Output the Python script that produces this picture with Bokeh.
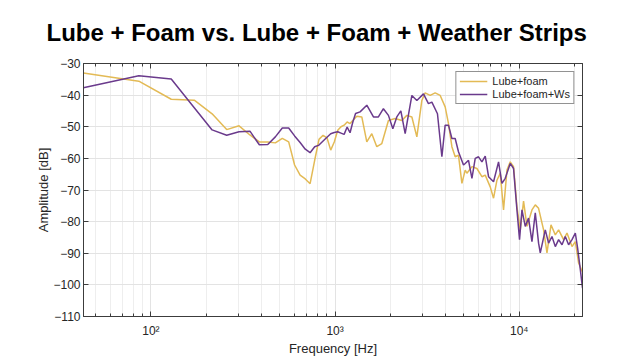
from bokeh.plotting import figure
from bokeh.models import (Range1d, FixedTicker, LogAxis, LinearAxis, Legend, LegendItem,
                          CustomJSTickFormatter)
from bokeh.embed import file_html
from bokeh.resources import INLINE

TITLE = "Lube + Foam vs. Lube + Foam + Weather Strips"
X_LABEL = "Frequency [Hz]"
Y_LABEL = "Amplitude [dB]"
SERIES_NAMES = ["Lube+foam", "Lube+foam+Ws"]

# Lube + foam (yellow)
freq_lf = [43, 86, 129, 172, 215, 258, 301, 345, 388, 431, 474, 517, 560, 603, 646, 689, 732,
           775, 818, 861, 904, 947, 990, 1034, 1077, 1120, 1163, 1206, 1312, 1397, 1487, 1583,
           1685, 1794, 1949, 2119, 2304, 2453, 2612, 2780, 2959, 3084, 3283, 3495, 3722, 3961,
           4129, 4308, 4489, 4678, 4883, 5088, 5198, 5535, 5890, 6271, 6536, 6957, 7252, 7566,
           7884, 8216, 8576, 8935, 9312, 9716, 10125, 10553, 11012, 11722, 12218, 12733, 13556,
           14143, 14873, 15696, 16357, 17410, 18164, 19340, 20157, 21007, 22050]
amp_lf = [-33.0, -35.6, -41.3, -41.6, -45.9, -50.9, -49.7, -52.6, -54.8, -54.8, -55.1, -53.7,
          -54.8, -62.1, -65.3, -66.5, -68.0, -60.6, -54.0, -52.7, -53.5, -57.4, -54.8, -51.1,
          -50.0, -49.5, -48.5, -49.0, -46.7, -46.9, -54.8, -52.2, -56.3, -55.3, -48.0, -47.4,
          -48.0, -46.4, -46.9, -53.2, -41.7, -39.3, -40.1, -39.3, -40.1, -43.7, -49.0, -56.3,
          -59.5, -59.0, -67.9, -63.7, -64.7, -62.6, -63.2, -65.8, -65.3, -69.0, -72.6, -66.9,
          -64.7, -76.3, -63.7, -61.1, -62.6, -75.3, -82.6, -73.5, -81.5, -76.3, -74.7, -75.8,
          -82.6, -89.9, -81.0, -84.2, -82.6, -85.7, -83.6, -87.9, -86.3, -93.1, -96.0]

# Lube + foam + weather strips (purple)
freq_lfw = [43, 86, 129, 172, 215, 258, 301, 345, 388, 431, 474, 517, 560, 603, 646, 689, 732,
            775, 818, 861, 904, 947, 990, 1034, 1077, 1120, 1163, 1206, 1249, 1292, 1367, 1487,
            1616, 1719, 1830, 1949, 2059, 2164, 2276, 2402, 2612, 2780, 3020, 3214, 3354, 3597,
            3802, 3961, 4129, 4308, 4489, 4678, 4981, 5088, 5303, 5535, 5767, 6010, 6271, 6536,
            6813, 7252, 7720, 8054, 8394, 8935, 9312, 9716, 10037, 10344, 10780, 11232, 11722,
            12218, 12733, 13006, 13846, 14430, 15058, 15696, 16357, 17069, 17783, 18532, 19340,
            20157, 20745, 21460, 22050]
amp_lfw = [-37.7, -33.9, -34.9, -44.0, -51.0, -52.7, -51.6, -51.4, -55.7, -55.6, -53.2, -50.4,
           -50.4, -52.9, -55.0, -57.1, -58.2, -56.3, -55.8, -54.5, -53.3, -52.2, -51.8, -51.6,
           -52.0, -52.4, -50.1, -51.9, -48.5, -45.8, -45.3, -43.2, -46.9, -46.9, -44.3, -46.4,
           -50.6, -46.9, -45.0, -52.2, -40.1, -41.7, -39.6, -42.7, -42.2, -45.9, -59.5, -49.5,
           -49.5, -53.7, -53.7, -57.9, -62.1, -61.6, -60.6, -66.3, -60.0, -59.5, -61.1, -59.3,
           -65.8, -67.4, -61.1, -67.9, -66.3, -61.6, -63.2, -76.3, -85.7, -76.3, -81.5, -78.9,
           -86.3, -77.2, -86.8, -89.9, -82.6, -86.8, -84.7, -87.9, -85.7, -87.3, -84.7, -87.3,
           -85.7, -83.6, -88.4, -95.2, -101.0]

x_ticks = [100, 1000, 10000]
x_tick_labels = ["10\u00b2", "10\u00b3", "10\u2074"]
x_minor_ticks = [50, 60, 70, 80, 90, 200, 300, 400, 500, 600, 700, 800, 900,
                 2000, 3000, 4000, 5000, 6000, 7000, 8000, 9000, 20000]
y_ticks = [-110, -100, -90, -80, -70, -60, -50, -40, -30]

FONT = "Liberation Sans"
TXT = "#262626"
AX = "#3c3c3c"
YELLOW = "#E3BA55"
PURPLE = "#6A3A8C"

p = figure(width=640, height=359, x_axis_type="log",
           x_range=Range1d(43.07, 22050), y_range=Range1d(-110, -30),
           output_backend="svg", toolbar_location=None,
           min_border_left=83, min_border_right=58, min_border_top=0, min_border_bottom=43,
           title=TITLE)

p.title.text_font = FONT
p.title.text_font_size = "24px"
p.title.text_font_style = "bold"
p.title.text_color = "black"
p.title.align = "left"
p.title.offset = -37
p.title.vertical_align = "middle"
p.title.standoff = 34

p.background_fill_color = "white"
p.border_fill_color = "white"
p.outline_line_color = AX

xt = FixedTicker(ticks=x_ticks, minor_ticks=x_minor_ticks)
yt = FixedTicker(ticks=y_ticks)

xa = p.xaxis[0]
xa.ticker = xt
xa.major_label_overrides = dict(zip(x_ticks, x_tick_labels))
xa.axis_label = X_LABEL
ya = p.yaxis[0]
ya.ticker = yt
ya.axis_label = Y_LABEL

for ax in (xa, ya):
    ax.axis_line_color = AX
    ax.major_tick_line_color = AX
    ax.minor_tick_line_color = AX
    ax.major_tick_in = 5
    ax.major_tick_out = 0
    ax.minor_tick_in = 3
    ax.minor_tick_out = 0
    ax.major_label_text_font = FONT
    ax.major_label_text_font_size = "12px"
    ax.major_label_text_color = TXT
    ax.axis_label_text_font = FONT
    ax.axis_label_text_font_size = "13px"
    ax.axis_label_text_font_style = "normal"
    ax.axis_label_text_color = TXT
ya.minor_tick_line_color = None
xa.major_label_standoff = 7
xa.axis_label_standoff = 0
ya.major_label_standoff = 3
ya.axis_label_standoff = -1

blank = CustomJSTickFormatter(code="return ''")
top = LogAxis(ticker=xt, formatter=blank, axis_line_color=AX, major_tick_line_color=AX,
              minor_tick_line_color=AX, major_tick_in=5, major_tick_out=0,
              minor_tick_in=3, minor_tick_out=0, major_label_standoff=0)
right = LinearAxis(ticker=yt, formatter=blank, axis_line_color=AX, major_tick_line_color=AX,
                   minor_tick_line_color=None, major_tick_in=5, major_tick_out=0,
                   major_label_standoff=0)
p.add_layout(top, "above")
p.add_layout(right, "right")

p.xgrid.grid_line_color = "#e3e3e3"
p.xgrid.minor_grid_line_color = "#eeeeee"
p.ygrid.grid_line_color = "#e3e3e3"

r1 = p.line(freq_lf, amp_lf, line_color=YELLOW, line_width=1.5)
r2 = p.line(freq_lfw, amp_lfw, line_color=PURPLE, line_width=1.5)

legend = Legend(items=[LegendItem(label=SERIES_NAMES[0], renderers=[r1]),
                       LegendItem(label=SERIES_NAMES[1], renderers=[r2])],
                location="top_right", margin=8, padding=3, spacing=1,
                glyph_width=28, glyph_height=12, label_height=12, label_standoff=5,
                label_text_font=FONT, label_text_font_size="11px", label_text_color=TXT,
                border_line_color=TXT, border_line_width=1,
                background_fill_color="white", background_fill_alpha=1)
p.add_layout(legend)

open("out.html", "w").write(file_html(p, INLINE))
